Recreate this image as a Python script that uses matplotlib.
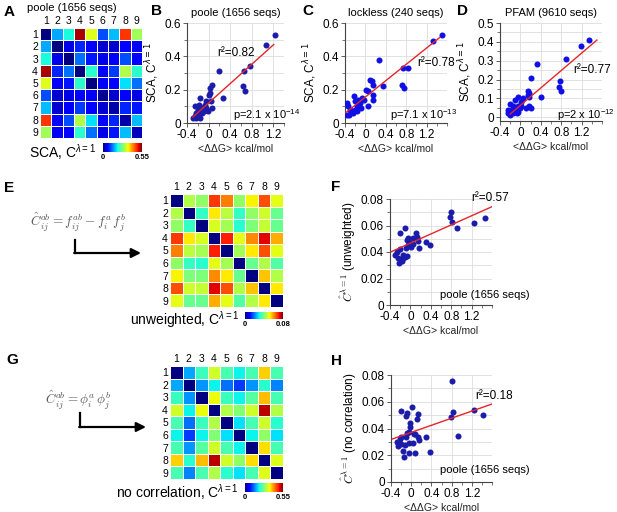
"""
Figura composta: matrizes SCA (A, E, G) e dispersões contra <ΔΔG> (B, C, D, F, H).
Saída: out.png
"""
import numpy as np
import matplotlib
matplotlib.use('Agg')
import matplotlib.pyplot as plt
from matplotlib.lines import Line2D
from matplotlib.patches import FancyArrowPatch
from matplotlib.ticker import MultipleLocator

plt.rcParams['font.family'] = ['Liberation Sans', 'DejaVu Sans']
plt.rcParams['mathtext.fontset'] = 'custom'
plt.rcParams['mathtext.rm'] = 'Liberation Sans'
plt.rcParams['mathtext.it'] = 'Liberation Sans:italic'
plt.rcParams['mathtext.bf'] = 'Liberation Sans:bold'

W, H = 617, 512

POSICOES = ['1', '2', '3', '4', '5', '6', '7', '8', '9']
XTICKS = [-0.4, 0, 0.4, 0.8, 1.2]
XLABELS = ['-0.4', '0', '0.4', '0.8', '1.2']

# --- matrizes 9x9 ---
A_SCA = [
    [0.00, 0.16, 0.21, 0.53, 0.34, 0.11, 0.17, 0.47, 0.30],
    [0.16, 0.00, 0.05, 0.09, 0.06, 0.04, 0.04, 0.07, 0.06],
    [0.21, 0.05, 0.00, 0.13, 0.08, 0.05, 0.06, 0.11, 0.07],
    [0.53, 0.09, 0.13, 0.00, 0.22, 0.07, 0.10, 0.31, 0.22],
    [0.34, 0.06, 0.08, 0.22, 0.00, 0.06, 0.07, 0.19, 0.13],
    [0.11, 0.04, 0.05, 0.07, 0.06, 0.01, 0.04, 0.07, 0.05],
    [0.17, 0.04, 0.06, 0.10, 0.07, 0.04, 0.02, 0.09, 0.08],
    [0.47, 0.07, 0.11, 0.31, 0.19, 0.07, 0.09, 0.02, 0.17],
    [0.30, 0.06, 0.07, 0.22, 0.13, 0.05, 0.08, 0.17, 0.03],
]
E_SEMPESO = [
    [0.000, 0.045, 0.042, 0.068, 0.062, 0.042, 0.052, 0.066, 0.050],
    [0.045, 0.000, 0.033, 0.053, 0.046, 0.033, 0.042, 0.048, 0.038],
    [0.042, 0.033, 0.000, 0.049, 0.044, 0.032, 0.040, 0.047, 0.038],
    [0.068, 0.053, 0.049, 0.000, 0.070, 0.050, 0.061, 0.073, 0.058],
    [0.062, 0.046, 0.044, 0.070, 0.000, 0.044, 0.053, 0.066, 0.050],
    [0.042, 0.033, 0.032, 0.050, 0.044, 0.000, 0.038, 0.045, 0.036],
    [0.052, 0.040, 0.040, 0.061, 0.053, 0.038, 0.000, 0.056, 0.045],
    [0.066, 0.048, 0.047, 0.073, 0.066, 0.045, 0.056, 0.000, 0.053],
    [0.050, 0.038, 0.038, 0.058, 0.050, 0.036, 0.045, 0.053, 0.000],
]
G_SEMCORR = [
    [0.00, 0.16, 0.23, 0.33, 0.24, 0.20, 0.24, 0.38, 0.24],
    [0.16, 0.00, 0.15, 0.20, 0.13, 0.10, 0.15, 0.22, 0.14],
    [0.23, 0.15, 0.00, 0.35, 0.23, 0.20, 0.25, 0.39, 0.24],
    [0.33, 0.20, 0.35, 0.00, 0.31, 0.28, 0.33, 0.52, 0.31],
    [0.24, 0.13, 0.23, 0.31, 0.00, 0.19, 0.24, 0.33, 0.22],
    [0.20, 0.10, 0.20, 0.28, 0.19, 0.00, 0.20, 0.29, 0.19],
    [0.24, 0.15, 0.25, 0.33, 0.24, 0.20, 0.00, 0.37, 0.24],
    [0.38, 0.22, 0.39, 0.52, 0.33, 0.29, 0.37, 0.00, 0.34],
    [0.24, 0.14, 0.24, 0.31, 0.22, 0.19, 0.24, 0.34, 0.00],
]

# --- dispersões ---
B_DDG = [1.23, 1.06, 0.76, 0.65, 0.63, 0.67, 0.19, 0.27, 0.07, 0.02, 0.02, 0.01, 0.05,
         0.06, -0.01, -0.05, -0.07, -0.15, -0.25, -0.18, -0.13, -0.10, -0.20, -0.24,
         -0.26, -0.21, -0.29, -0.19, -0.13, -0.09, -0.15, -0.23, -0.04]
B_SCA = [0.53, 0.47, 0.34, 0.31, 0.22, 0.19, 0.31, 0.15, 0.23, 0.21, 0.18, 0.17, 0.13,
         0.09, 0.07, 0.13, 0.11, 0.15, 0.10, 0.11, 0.09, 0.09, 0.08, 0.06,
         0.04, 0.04, 0.03, 0.05, 0.06, 0.07, 0.03, 0.03, 0.09]
B_AJUSTE = [0.29, 0.12, -0.29, 1.21]   # inclinação, intercepto, x inicial, x final

C_DDG = [1.50, 1.32, 0.27, 0.74, 0.84, 0.35, 0.71, 0.76, 0.09, 0.12, 0.14, 0.06, 0.14,
         0.14, 0.06, 0.01, -0.07, -0.14, -0.22, -0.20, -0.17, -0.11, -0.03, -0.37,
         -0.34, -0.30, -0.37, -0.32, -0.25, -0.20, -0.16, -0.27, -0.09]
C_SCA = [0.53, 0.49, 0.38, 0.33, 0.33, 0.22, 0.23, 0.21, 0.26, 0.25, 0.23, 0.19, 0.17,
         0.14, 0.10, 0.20, 0.15, 0.14, 0.16, 0.13, 0.10, 0.12, 0.14, 0.12,
         0.10, 0.08, 0.05, 0.05, 0.06, 0.08, 0.07, 0.07, 0.09]
C_AJUSTE = [0.245, 0.156, -0.38, 1.46]

D_DDG = [1.35, 1.19, 0.89, 0.32, 0.78, 0.76, 0.80, 0.21, 0.40, 0.14, 0.17, 0.14, 0.17,
         0.06, -0.04, -0.11, 0.01, 0.17, 0.21, 0.10, 0.02, -0.04, -0.11, -0.17,
         -0.20, -0.14, -0.07, -0.24, -0.25, -0.20, -0.14, -0.07, -0.04, -0.01]
D_SCA = [0.41, 0.38, 0.31, 0.28, 0.19, 0.16, 0.14, 0.21, 0.11, 0.14, 0.13, 0.12, 0.11,
         0.10, 0.11, 0.09, 0.08, 0.06, 0.05, 0.05, 0.06, 0.06, 0.04, 0.04,
         0.07, 0.06, 0.05, 0.04, 0.02, 0.01, 0.02, 0.02, 0.03, 0.05]
D_AJUSTE = [0.231, 0.063, -0.20, 1.50]

F_DDG = [1.46, 1.25, 0.79, 0.77, 0.82, 0.92, 0.38, 0.30, 0.17, 0.15, 0.12, 0.11, 0.06,
         0.06, 0.02, -0.02, -0.04, -0.07, -0.04, -0.09, -0.11, -0.21, -0.21, -0.27,
         -0.30, -0.24, -0.14, -0.11, -0.17, -0.22, -0.15, -0.06, -0.01]
F_C = [0.0655, 0.0621, 0.0704, 0.0667, 0.0629, 0.0584, 0.0453, 0.0478, 0.0428, 0.0486,
       0.0516, 0.0546, 0.0503, 0.0460, 0.0440, 0.0478, 0.0503, 0.0490, 0.0453, 0.0428,
       0.0579, 0.0546, 0.0420, 0.0403, 0.0378, 0.0353, 0.0378, 0.0360, 0.0335, 0.0320,
       0.0353, 0.0370, 0.0453]
F_AJUSTE = [0.0172, 0.0467, -0.37, 1.60]

H_DDG = [0.80, 0.82, 0.78, 1.25, 1.43, 0.93, 0.38, 0.30, 0.14, 0.11, 0.14, 0.16, 0.07,
         0.01, -0.02, -0.02, 0.05, 0.03, 0.07, -0.04, -0.04, -0.09, -0.11, -0.13,
         -0.09, -0.11, -0.20, -0.20, -0.20, -0.17, -0.15, -0.22, -0.28, -0.26, -0.04]
H_C = [0.0758, 0.0521, 0.0484, 0.0539, 0.0501, 0.0344, 0.0222, 0.0339, 0.0509, 0.0471,
       0.0339, 0.0314, 0.0359, 0.0563, 0.0439, 0.0409, 0.0359, 0.0294, 0.0215, 0.0215,
       0.0289, 0.0369, 0.0339, 0.0277, 0.0518, 0.0494, 0.0533, 0.0339, 0.0284, 0.0234,
       0.0185, 0.0319, 0.0301, 0.0269, 0.0376]
H_AJUSTE = [0.01325, 0.0371, -0.37, 1.60]


def caixa(esq, topo, dir, base):
    """pixels -> fração da figura"""
    return [esq / W, 1 - base / H, (dir - esq) / W, (base - topo) / H]


def fx(px):
    return px / W


def fy(py):
    return 1 - py / H


def matriz(fig, box, mat, vmax, cbox, rotulo, rot_xy):
    ax = fig.add_axes(caixa(*box))
    mesh = ax.pcolormesh(np.array(mat), cmap='jet', vmin=0, vmax=vmax,
                         edgecolors='white', linewidth=0.6)
    ax.set_xlim(0, 9); ax.set_ylim(9, 0)
    ax.set_xticks(np.arange(9) + 0.5, labels=POSICOES)
    ax.set_yticks(np.arange(9) + 0.5, labels=POSICOES)
    ax.xaxis.tick_top()
    ax.tick_params(length=0, labelsize=7.5, pad=1.5)
    for s in ax.spines.values():
        s.set_visible(False)

    cax = fig.add_axes(caixa(*cbox))
    cb = fig.colorbar(mesh, cax=cax, orientation='horizontal')
    cb.set_ticks([0, vmax], labels=['0', f'{vmax:g}'])
    cb.ax.tick_params(length=0, labelsize=5.5, pad=1.5)
    for t in cb.ax.get_xticklabels():
        t.set_fontweight('bold')
    cb.outline.set_visible(False)
    fig.text(fx(rot_xy[0]), fy(rot_xy[1]), rotulo, ha='right', va='center', fontsize=10)


def dispersao(fig, box, x, y, cor, ajuste, xmax, ylim, ymaj, ymin, ylabels, ylabel,
              math_ylabel='dejavusans'):
    ax = fig.add_axes(caixa(*box))
    ax.set_axisbelow(True)
    ax.scatter(x, y, s=19, color=cor, zorder=3, linewidths=0)
    a, b, x0, x1 = ajuste
    xs = np.array([x0, x1])
    ax.plot(xs, a * xs + b, color='#e3262a', lw=1.0, zorder=4)

    ax.set_xlim(-0.4, xmax)
    ax.set_ylim(*ylim)
    ax.set_xticks(XTICKS, labels=XLABELS)
    ax.set_yticks(ymaj, labels=ylabels)
    ax.yaxis.set_minor_locator(MultipleLocator(ymin))
    ax.xaxis.set_minor_locator(MultipleLocator(0.2))
    ax.grid(which='major', axis='x', color='#dddddd', lw=0.6)
    ax.grid(which='both', axis='y', color='#dddddd', lw=0.6)
    ax.spines[['top', 'right']].set_visible(False)
    for s in ('left', 'bottom'):
        ax.spines[s].set_color('#444444'); ax.spines[s].set_linewidth(0.8)
    ax.tick_params(which='major', direction='out', length=3, width=0.6,
                   labelsize=8.5, pad=1.5, color='#444444')
    ax.tick_params(which='minor', direction='out', length=2, width=0.5, color='#444444')
    ax.set_xlabel('<ΔΔG> kcal/mol', fontsize=7.5, labelpad=2, color='#222222')
    ax.set_ylabel(ylabel, fontsize=8.5, labelpad=2, math_fontfamily=math_ylabel)
    return ax


def seta(fig, xv, y0, y1, x1):
    fig.add_artist(Line2D([fx(xv), fx(xv)], [fy(y0), fy(y1)],
                          transform=fig.transFigure, color='black', lw=1.6))
    fig.add_artist(FancyArrowPatch((fx(xv - 0.8), fy(y1)), (fx(x1), fy(y1)),
                                   transform=fig.transFigure, arrowstyle='-|>',
                                   mutation_scale=14, lw=1.6, color='black',
                                   shrinkA=0, shrinkB=0))


if __name__ == "__main__":
    fig = plt.figure(figsize=(W / 100, H / 100), dpi=100)

    letra = dict(fontsize=11, fontweight='bold', va='center', ha='left')
    for txt, px, py in [('A', 4, 12), ('B', 151, 11), ('C', 302, 11), ('D', 457, 11),
                        ('E', 4, 188), ('F', 331, 187), ('G', 6, 360), ('H', 331, 361)]:
        fig.text(fx(px), fy(py), txt, **letra)

    # A
    fig.text(fx(72), fy(8), 'poole (1656 seqs)', ha='center', va='center', fontsize=8)
    matriz(fig, (40, 28, 142, 138), A_SCA, 0.55, (103, 143, 142, 152),
           r'SCA, C$^{\lambda=1}$', (96, 152))

    # B, C, D
    rot_sca = r'SCA, C$^{\lambda=1}$'
    ax = dispersao(fig, (187, 23, 284, 123), B_DDG, B_SCA, '#1c1caa', B_AJUSTE, 1.4,
                   (0, 0.6), [0, 0.2, 0.4, 0.6], 0.1, ['0', '0.2', '0.4', '0.6'], rot_sca)
    ax.set_title('poole (1656 seqs)', fontsize=8, pad=5)
    ax.text(0.505, 0.70, 'r²=0.82', transform=ax.transAxes, ha='center', va='center', fontsize=8.5)
    ax.text(1.165, 0.08, r'p=2.1 x 10$^{-14}$', transform=ax.transAxes, ha='right',
            va='center', fontsize=8)

    ax = dispersao(fig, (345, 23, 447, 123), C_DDG, C_SCA, '#1010e6', C_AJUSTE, 1.6,
                   (0, 0.6), [0, 0.2, 0.4, 0.6], 0.1, ['0', '0.2', '0.4', '0.6'], rot_sca)
    ax.set_title('lockless (240 seqs)', fontsize=8, pad=5)
    ax.text(0.706, 0.60, 'r²=0.78', transform=ax.transAxes, ha='left', va='center', fontsize=8.5)
    ax.text(1.10, 0.08, r'p=7.1 x 10$^{-13}$', transform=ax.transAxes, ha='right',
            va='center', fontsize=8)

    ax = dispersao(fig, (500, 23, 602, 121), D_DDG, D_SCA, '#1010e6', D_AJUSTE, 1.6,
                   (-0.02, 0.5), [0, 0.1, 0.2, 0.3, 0.4, 0.5], 0.05,
                   ['0', '0.1', '0.2', '0.3', '0.4', '0.5'], rot_sca)
    ax.set_title('PFAM (9610 seqs)', fontsize=8, pad=5)
    ax.text(0.716, 0.52, 'r²=0.77', transform=ax.transAxes, ha='left', va='center', fontsize=8.5)
    ax.text(1.13, 0.06, r'p=2 x 10$^{-12}$', transform=ax.transAxes, ha='right',
            va='center', fontsize=8)

    # E
    fig.text(fx(78), fy(222), r'$\hat{C}_{ij}^{ab} = f_{ij}^{ab} - f_i^{a}\, f_j^{b}$',
             ha='center', va='center', fontsize=9.5, color='#555555', math_fontfamily='cm')
    seta(fig, 75, 240, 253, 141)
    matriz(fig, (170, 194, 283, 307), E_SEMPESO, 0.08, (245, 312, 283, 319),
           r'unweighted, C$^{\lambda=1}$', (239, 320))

    # F
    ylims_c = (0, 0.08)
    ymaj_c = [0, 0.02, 0.04, 0.06, 0.08]
    ylab_c = ['0', '0.02', '0.04', '0.06', '0.08']
    ax = dispersao(fig, (390, 199, 492, 305), F_DDG, F_C, '#1c1caa', F_AJUSTE, 1.6,
                   ylims_c, ymaj_c, 0.01, ylab_c, r'$\hat{C}^{\lambda=1}$ (unweighted)',
                   math_ylabel='cm')
    ax.text(0.80, 1.01, 'r²=0.57', transform=ax.transAxes, ha='left', va='center', fontsize=8.5)
    ax.text(0.49, 0.094, 'poole (1656 seqs)', transform=ax.transAxes, ha='left',
            va='center', fontsize=8)

    # G
    fig.text(fx(78), fy(400), r'$\hat{C}_{ij}^{ab} = \phi_i^{a}\, \phi_j^{b}$',
             ha='center', va='center', fontsize=9.5, color='#555555', math_fontfamily='cm')
    seta(fig, 80, 413, 427, 146)
    matriz(fig, (170, 366, 283, 479), G_SEMCORR, 0.55, (245, 483, 283, 492),
           r'no correlation, C$^{\lambda=1}$', (239, 492))

    # H
    ax = dispersao(fig, (391, 375, 492, 482), H_DDG, H_C, '#1c1caa', H_AJUSTE, 1.6,
                   ylims_c, ymaj_c, 0.01, ylab_c, r'$\hat{C}^{\lambda=1}$ (no correlation)',
                   math_ylabel='cm')
    ax.text(0.83, 0.80, 'r²=0.18', transform=ax.transAxes, ha='left', va='center', fontsize=8.5)
    ax.text(0.49, 0.11, 'poole (1656 seqs)', transform=ax.transAxes, ha='left',
            va='center', fontsize=8)

    fig.savefig('out.png', dpi=100)
    plt.close(fig)
